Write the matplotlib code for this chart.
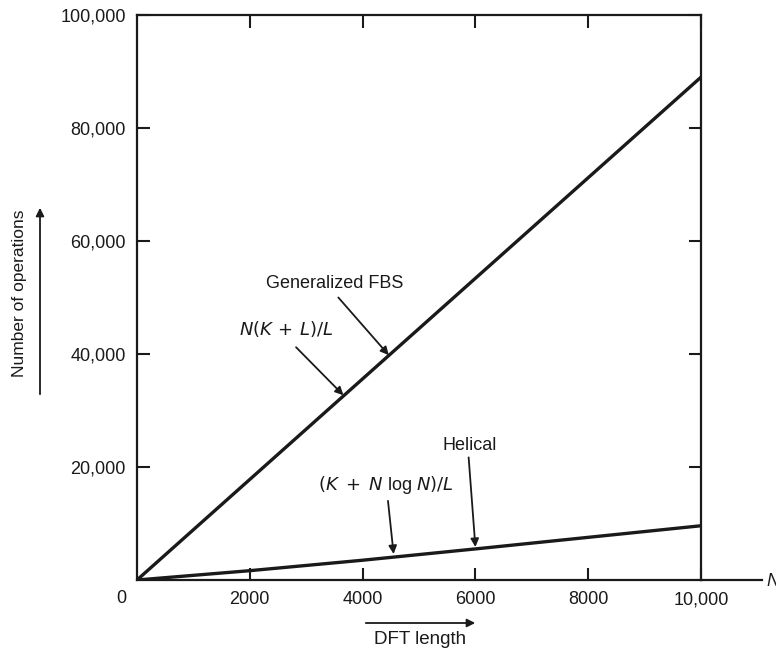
import numpy as np
import matplotlib
matplotlib.use("Agg")
import matplotlib.pyplot as plt

plt.rcParams['font.family'] = ['Liberation Sans', 'DejaVu Sans']

# data
dft_length = [0, 2000, 4000, 6000, 8000, 10000]
fbs_ops = [0, 17800, 35600, 53400, 71200, 89000]      # Generalized FBS, N(K+L)/L
helical_ops = [0, 1650, 3500, 5500, 7550, 9600]      # Helical, (K + N log N)/L

xtick_vals = [2000, 4000, 6000, 8000, 10000]
xtick_labels = ['2000', '4000', '6000', '8000', '10,000']
ytick_vals = [20000, 40000, 60000, 80000, 100000]
ytick_labels = ['20,000', '40,000', '60,000', '80,000', '100,000']

ink = '#1a1a1a'
fs = 13

fig = plt.figure(figsize=(7.76, 6.52), dpi=100)
ax = fig.add_axes([137 / 776, 1 - 580 / 652, 564 / 776, 565 / 652])

ax.plot(dft_length, fbs_ops, color=ink, lw=2.4, solid_capstyle='butt')
ax.plot(dft_length, helical_ops, color=ink, lw=2.4, solid_capstyle='butt')

ax.set_xlim(0, 10000)
ax.set_ylim(0, 100000)
ax.set_xticks(xtick_vals, xtick_labels)
ax.set_yticks(ytick_vals, ytick_labels)
ax.tick_params(direction='in', length=9, width=1.5, color=ink, labelcolor=ink,
               labelsize=fs, top=True, right=True, pad=8)
for s in ax.spines.values():
    s.set_linewidth(1.6)
    s.set_color(ink)

# "0" sits left of the origin
ax.annotate('0', xy=(0, 0), xycoords='data', xytext=(-11, -13),
            textcoords='offset points', ha='center', va='center', fontsize=fs, color=ink)

# x axis runs past the frame towards the cut-off "N"
ax.plot([1.0, 1.108], [0, 0], transform=ax.transAxes, color=ink, lw=1.6, clip_on=False)
fig.text(766 / 776, 1 - 582 / 652, 'N', fontsize=fs, style='italic', color=ink,
         ha='left', va='center')

arrow = dict(arrowstyle='-|>', color=ink, lw=1.3, mutation_scale=12, shrinkA=0, shrinkB=0)

# curve labels with pointer arrows
ax.text(3500, 52400, 'Generalized FBS', ha='center', va='center', fontsize=fs, color=ink)
ax.annotate('', xy=(4464, 39800), xytext=(3570, 50000), arrowprops=arrow)
ax.text(2650, 44500, r'$N(K\,+\,L)/L$', ha='center', va='center', fontsize=fs, color=ink)
ax.annotate('', xy=(3660, 32700), xytext=(2820, 41200), arrowprops=arrow)

ax.text(5900, 23800, 'Helical', ha='center', va='center', fontsize=fs, color=ink)
ax.annotate('', xy=(6000, 5840), xytext=(5880, 21700), arrowprops=arrow)
ax.text(4420, 16800, r'$(K\;+\;N$ log $N)/L$', ha='center', va='center', fontsize=fs,
        color=ink)
ax.annotate('', xy=(4550, 4600), xytext=(4450, 14000), arrowprops=arrow)

# axis titles with direction arrows
fig.text(20 / 776, 1 - 293 / 652, 'Number of operations', rotation=90, ha='center',
         va='center', fontsize=12.5, color=ink)
fig.patches.append(matplotlib.patches.FancyArrowPatch(
    (40 / 776, 1 - 397 / 652), (40 / 776, 1 - 205 / 652), transform=fig.transFigure,
    arrowstyle='-|>', mutation_scale=12, color=ink, lw=1.3))

fig.text(420 / 776, 1 - 640 / 652, 'DFT length', ha='center', va='center',
         fontsize=13.5, color=ink)
fig.patches.append(matplotlib.patches.FancyArrowPatch(
    (363 / 776, 1 - 623 / 652), (478 / 776, 1 - 623 / 652), transform=fig.transFigure,
    arrowstyle='-|>', mutation_scale=12, color=ink, lw=1.3))

fig.savefig('out.png', dpi=100, facecolor='white')
